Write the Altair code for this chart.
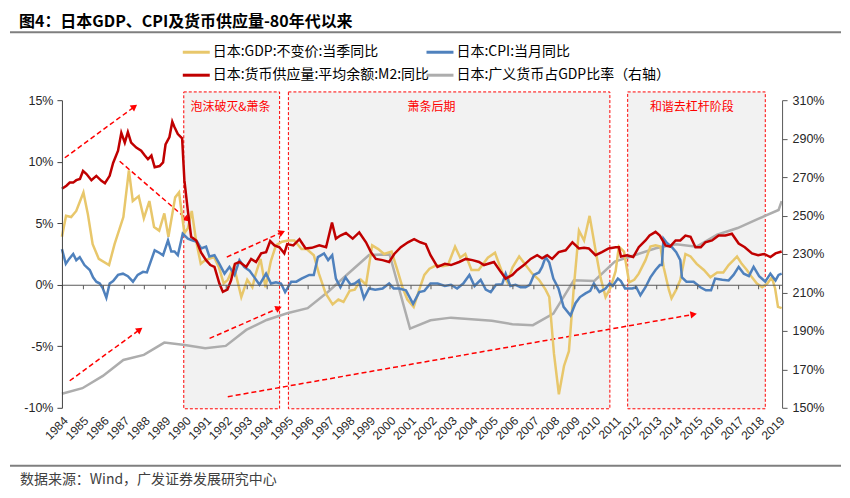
import math
import altair as alt
import pandas as pd

# ---------------- data ----------------
gdp_t = [1984.00, 1984.20, 1984.45, 1984.70, 1985.05, 1985.27, 1985.50, 1985.80, 1986.30, 1986.57,
         1987.00, 1987.27, 1987.46, 1987.75, 1988.00, 1988.27, 1988.50, 1988.75, 1989.00, 1989.20,
         1989.53, 1989.72, 1989.98, 1990.15, 1990.34, 1990.55, 1990.78, 1991.00, 1991.43, 1991.67,
         1991.90, 1992.10, 1992.40, 1992.76, 1993.05, 1993.30, 1993.45, 1993.70, 1993.94, 1994.20,
         1994.45, 1994.75, 1995.05, 1995.35, 1995.70, 1995.95, 1996.30, 1996.55, 1996.88, 1997.22,
         1997.50, 1997.75, 1998.05, 1998.30, 1998.60, 1998.85, 1999.15, 1999.45, 1999.73, 2000.10,
         2000.38, 2000.63, 2000.87, 2001.18, 2001.45, 2001.70, 2001.95, 2002.30, 2002.60, 2002.85,
         2003.20, 2003.45, 2003.70, 2004.00, 2004.35, 2004.80, 2005.15, 2005.50, 2005.76, 2006.00,
         2006.33, 2006.60, 2006.97, 2007.30, 2007.62, 2007.80, 2008.03, 2008.27, 2008.52, 2008.76,
         2009.00, 2009.25, 2009.50, 2009.77, 2010.06, 2010.30, 2010.55, 2010.80, 2011.04, 2011.20,
         2011.45, 2011.70, 2011.95, 2012.17, 2012.50, 2012.74, 2012.99, 2013.23, 2013.39, 2013.64,
         2013.77, 2014.00, 2014.20, 2014.45, 2014.70, 2015.00, 2015.35, 2015.67, 2016.00, 2016.30,
         2016.56, 2016.80, 2016.97, 2017.20, 2017.45, 2017.70, 2017.94, 2018.20, 2018.45, 2018.67,
         2018.83, 2018.97, 2019.15]
gdp_v = [3.9, 5.6, 5.5, 6.0, 7.5, 5.7, 3.3, 2.1, 1.6, 3.3,
         5.5, 9.3, 6.8, 7.2, 5.4, 6.8, 4.7, 4.4, 5.8, 3.9,
         7.1, 7.5, 4.2, 4.6, 6.0, 3.6, 1.7, 2.0, 2.25, 1.4,
         0.1, 0.4, 1.5, -1.0, 0.4, -0.2, 0.8, 2.1, -0.2, 1.9,
         3.2, 3.5, 3.6, 3.6, 2.9, 2.9, 2.4, 0.9, -0.7, -1.6,
         -1.2, -1.4, -0.5, -0.4, 0.4, 0.0, 3.2, 2.9, 2.5, 2.7,
         1.2, -0.2, -1.2, -1.8, -0.4, 0.8, 1.3, 1.6, 1.5, 1.6,
         3.1, 2.2, 2.5, 1.2, 1.2, 2.2, 2.6, 1.0, 0.2, 1.4,
         2.3, 1.7, 0.9, 0.4, -0.4, -1.0, -5.6, -8.9, -6.6, -5.4,
         -0.2, 4.4, 3.6, 5.6, 2.8, 0.6, -1.0, -0.2, 1.1, 3.1,
         2.7, 0.2, 0.4, 0.9, 2.0, 3.1, 3.2, 3.1, 1.4, -0.4,
         -1.1, -0.4, 0.4, 2.5, 2.3, 1.7, 1.2, 0.6, 1.0, 1.0,
         1.6, 2.0, 2.3, 1.7, 1.2, 0.6, 0.1, -0.2, 0.1, 0.6,
         -0.3, -1.8, -1.9]

cpi_t = [1984.00, 1984.19, 1984.35, 1984.55, 1984.70, 1984.87, 1985.10, 1985.36, 1985.52, 1985.68,
         1985.85, 1986.00, 1986.17, 1986.33, 1986.50, 1986.74, 1986.98, 1987.22, 1987.47, 1987.70,
         1987.96, 1988.15, 1988.36, 1988.53, 1988.75, 1988.94, 1989.18, 1989.34, 1989.50, 1989.66,
         1989.90, 1990.15, 1990.39, 1990.60, 1990.80, 1991.04, 1991.20, 1991.45, 1991.69, 1991.94,
         1992.18, 1992.43, 1992.67, 1992.90, 1993.16, 1993.40, 1993.65, 1993.97, 1994.21, 1994.45,
         1994.70, 1994.90, 1995.20, 1995.45, 1995.70, 1996.08, 1996.30, 1996.50, 1996.80, 1997.00,
         1997.20, 1997.38, 1997.60, 1997.85, 1998.10, 1998.30, 1998.50, 1998.75, 1999.00, 1999.30,
         1999.66, 1999.98, 2000.20, 2000.47, 2000.80, 2001.15, 2001.45, 2001.70, 2002.00, 2002.35,
         2002.70, 2003.00, 2003.30, 2003.60, 2003.90, 2004.15, 2004.45, 2004.70, 2004.94, 2005.20,
         2005.50, 2005.67, 2005.90, 2006.15, 2006.40, 2006.64, 2006.85, 2007.05, 2007.30, 2007.45,
         2007.62, 2007.80, 2008.00, 2008.25, 2008.50, 2008.84, 2009.08, 2009.30, 2009.57, 2009.80,
         2009.98, 2010.25, 2010.55, 2010.75, 2010.90, 2011.15, 2011.30, 2011.50, 2011.85, 2012.05,
         2012.25, 2012.50, 2012.74, 2012.99, 2013.20, 2013.30, 2013.38, 2013.55, 2013.79, 2014.00,
         2014.20, 2014.28, 2014.50, 2014.85, 2015.18, 2015.45, 2015.70, 2015.90, 2016.25, 2016.56,
         2016.80, 2017.05, 2017.30, 2017.55, 2017.78, 2018.05, 2018.35, 2018.60, 2018.85, 2019.00,
         2019.15]
cpi_v = [2.9, 1.7, 2.1, 2.5, 2.0, 2.25, 1.6, 1.2, 0.6, 0.25,
         0.1, -0.3, -1.05, 0.1, 0.3, 0.8, 0.9, 0.7, 0.25, 0.8,
         1.05, 1.0, 2.0, 2.8, 2.6, 2.4, 3.6, 2.7, 2.7, 2.4,
         4.15, 3.75, 3.6, 3.5, 2.95, 3.1, 2.3, 2.4, 1.7, 0.9,
         1.45, 0.8, 2.0, 1.45, 1.15, 0.6, 0.0, 0.9, 0.1, 0.2,
         0.1, -0.6, 0.25, 0.25, 0.5, 0.8, 0.8, 2.25, 2.55, 2.0,
         2.4, 0.5, -0.2, 0.6, 0.0, 0.1, 0.35, -1.1, -0.3, -0.4,
         -0.3, 0.1, -0.3, -0.3, -0.45, -1.55, -0.6, -0.5, 0.1, 0.1,
         -0.1, 0.0, -0.3, 0.1, 0.8, -0.1, 0.4, -0.4, -0.6, 0.0,
         0.05, 0.9, -0.1, 0.0, -0.2, -0.2, 0.0, 0.8, 1.0, 1.45,
         2.25, 1.8, 0.5, -0.3, -1.8, -2.5, -1.5, -1.0, -0.7, -0.5,
         0.1, -0.6, -0.3, 0.1, -0.1, 0.5, 0.3, -0.3, -0.3, -0.2,
         -0.85, -0.2, 0.6, 1.2, 1.6, 1.6, 3.75, 3.4, 3.05, 2.65,
         2.0, 0.6, 0.25, 0.25, -0.2, -0.45, -0.45, 0.5, 0.4, 0.35,
         0.8, 1.45, 0.9, 0.7, 1.45, 0.7, 0.25, 0.9, 0.35, 0.8,
         0.9]

m2_t = [1984.00, 1984.22, 1984.38, 1984.55, 1984.70, 1984.88, 1985.03, 1985.20, 1985.44, 1985.68,
        1985.93, 1986.10, 1986.33, 1986.50, 1986.74, 1986.90, 1987.07, 1987.22, 1987.38, 1987.63,
        1987.87, 1988.05, 1988.20, 1988.37, 1988.53, 1988.77, 1988.94, 1989.06, 1989.25, 1989.39,
        1989.50, 1989.66, 1989.87, 1989.98, 1990.15, 1990.31, 1990.56, 1990.80, 1991.04, 1991.25,
        1991.45, 1991.69, 1991.86, 1992.08, 1992.26, 1992.45, 1992.67, 1993.00, 1993.24, 1993.48,
        1993.73, 1993.97, 1994.17, 1994.38, 1994.62, 1994.86, 1995.00, 1995.30, 1995.60, 1995.90,
        1996.20, 1996.57, 1996.90, 1997.19, 1997.38, 1997.60, 1997.87, 1998.20, 1998.52, 1998.85,
        1999.09, 1999.33, 1999.66, 1999.98, 2000.23, 2000.55, 2000.90, 2001.20, 2001.50, 2001.77,
        2002.00, 2002.34, 2002.70, 2003.00, 2003.40, 2003.72, 2004.05, 2004.37, 2004.61, 2005.10,
        2005.43, 2005.67, 2006.00, 2006.24, 2006.56, 2006.89, 2007.21, 2007.45, 2007.70, 2007.94,
        2008.26, 2008.60, 2008.93, 2009.25, 2009.50, 2009.73, 2010.06, 2010.37, 2010.70, 2011.04,
        2011.20, 2011.30, 2011.60, 2011.90, 2012.17, 2012.50, 2012.70, 2012.99, 2013.20, 2013.48,
        2013.70, 2013.97, 2014.20, 2014.45, 2014.70, 2014.94, 2015.20, 2015.42, 2015.75, 2016.07,
        2016.40, 2016.72, 2017.05, 2017.35, 2017.70, 2018.00, 2018.30, 2018.60, 2018.85, 2019.15]
m2_v = [7.8, 8.05, 8.3, 8.3, 8.5, 8.6, 9.25, 9.0, 8.5, 8.85,
        8.45, 8.25, 8.85, 9.9, 10.9, 12.35, 11.55, 12.4, 11.55, 11.15,
        10.9, 10.5, 10.2, 10.5, 9.55, 9.65, 9.95, 11.4, 12.0, 13.25,
        12.8, 12.25, 11.9, 8.5, 6.0, 3.9, 3.6, 2.6, 2.0, 1.6,
        1.45, 0.1, -0.58, -0.4, 0.36, 1.7, 1.85, 1.45, 2.1, 1.85,
        2.55, 2.65, 3.55, 3.2, 3.05, 2.55, 3.3, 3.2, 3.7, 2.95,
        3.0, 3.2, 3.05, 5.05, 3.75, 4.0, 4.2, 3.75, 4.25, 3.45,
        2.65, 2.1, 2.0, 1.85, 2.5, 3.05, 3.45, 3.7, 3.45, 3.3,
        2.4, 1.45, 1.7, 1.6, 1.85, 2.1, 2.0, 1.85, 1.6, 1.85,
        1.05, 0.5, 0.8, 1.2, 1.6, 2.1, 2.4, 2.15, 2.4, 2.1,
        2.65, 2.8, 3.45, 2.95, 3.0, 2.95, 2.4, 2.65, 2.95, 3.05,
        3.05, 2.3, 2.4, 2.25, 3.05, 3.6, 4.0, 4.3, 4.0, 3.2,
        3.1, 3.6, 3.6, 4.0, 3.9, 3.05, 3.05, 3.45, 3.6, 4.0,
        4.0, 4.15, 3.35, 3.05, 2.55, 2.4, 2.5, 2.25, 2.55, 2.7]

ratio_t = [1984.0, 1985.0, 1986.0, 1987.0, 1988.0, 1989.0, 1990.0, 1991.0, 1992.0, 1993.0,
           1994.0, 1995.0, 1996.0, 1997.0, 1998.0, 1999.0, 2000.0, 2001.0, 2002.0, 2003.0,
           2004.0, 2005.0, 2006.0, 2007.0, 2008.0, 2009.0, 2010.0, 2011.0, 2012.0, 2013.0,
           2014.0, 2015.0, 2016.0, 2017.0, 2018.0, 2019.0, 2019.15]
ratio_v = [157.3, 160.2, 166.6, 174.9, 177.5, 183.9, 182.7, 181.0, 182.2, 190.5,
           195.7, 199.2, 201.8, 210.4, 220.0, 229.5, 229.8, 191.2, 195.5, 196.9,
           196.0, 195.3, 193.5, 193.0, 199.0, 216.3, 216.0, 226.0, 229.5, 233.0,
           235.1, 233.8, 240.0, 243.5, 248.3, 252.9, 257.5]

series_names = ["日本:GDP:不变价:当季同比", "日本:CPI:当月同比",
                "日本:货币供应量:平均余额:M2:同比", "日本:广义货币占GDP比率（右轴）"]
year_ticks = list(range(1984, 2020))
left_ticks = [-10, -5, 0, 5, 10, 15]
right_ticks = list(range(150, 311, 20))

region_names = ["泡沫破灭&萧条", "萧条后期", "和谐去杠杆阶段"]
region_start = [1989.95, 1995.06, 2011.63]
region_end = [1994.63, 2010.76, 2018.35]
region_label_x = [1992.23, 2002.05, 2014.76]

arrow_x1 = [1984.14, 1986.82, 1992.05, 1984.38, 1991.21, 1992.10]
arrow_y1 = [10.32, 10.04, 2.25, -7.80, -4.36, -9.10]
arrow_x2 = [1987.50, 1990.07, 1994.70, 1987.76, 1994.54, 2014.80]
arrow_y2 = [14.42, 5.37, 4.23, -3.69, -1.93, -2.42]

title_text = "图4：日本GDP、CPI及货币供应量-80年代以来"
source_text = "数据来源：Wind，广发证券发展研究中心"

# ---------------- layout / style ----------------
W, H = 721, 308
X_DOMAIN = [1984, 2019.17]
Y_LEFT = [-10, 15]
Y_RIGHT = [150, 310]
colors = ["#E8C76B", "#4F81BD", "#C00000", "#ADADAD"]
CJK = "Noto Sans CJK SC"
LAT = "Liberation Sans"

def xsc():
    return alt.Scale(domain=X_DOMAIN, nice=False, zero=False)

def ylsc():
    return alt.Scale(domain=Y_LEFT, nice=False, zero=False)

yr = alt.Scale(domain=Y_RIGHT, nice=False, zero=False)

zero_px = H * (Y_LEFT[1] - 0) / (Y_LEFT[1] - Y_LEFT[0])
px_x = W / (X_DOMAIN[1] - X_DOMAIN[0])
px_y = H / (Y_LEFT[1] - Y_LEFT[0])

label_axis = alt.Axis(orient="bottom", values=year_ticks, format="d", labelAngle=315,
                      labelFont=LAT, labelFontSize=12, labelColor="#262626",
                      domain=False, ticks=False, grid=False, title=None, labelPadding=7,
                      labelOverlap=False)
zero_axis = alt.Axis(orient="bottom", offset=-(H - zero_px), values=year_ticks, labels=False,
                     ticks=True, tickSize=4, tickColor="#595959", domain=True,
                     domainColor="#595959", domainWidth=1, grid=False, title=None, zindex=1)
left_axis = alt.Axis(orient="left", values=left_ticks, labelExpr="datum.value + '%'",
                     tickSize=5, tickColor="#404040", domainColor="#404040",
                     labelFont=LAT, labelFontSize=12.5, labelColor="#262626",
                     labelPadding=4, grid=False, title=None, zindex=1)
right_axis = alt.Axis(orient="right", values=right_ticks, labelExpr="datum.value + '%'",
                      tickSize=5, tickColor="#595959", domainColor="#595959",
                      labelFont=LAT, labelFontSize=12.5, labelColor="#262626",
                      labelPadding=5, grid=False, title=None, zindex=1)

# ---------------- tables ----------------
gdp_df = pd.DataFrame({"t": gdp_t, "v": gdp_v})
cpi_df = pd.DataFrame({"t": cpi_t, "v": cpi_v})
m2_df = pd.DataFrame({"t": m2_t, "v": m2_v})
ratio_df = pd.DataFrame({"t": ratio_t, "v": ratio_v})

reg_df = pd.DataFrame({"name": region_names, "s": region_start, "e": region_end,
                       "lx": region_label_x})
reg_df["top"] = 15.67
reg_df["bot"] = -10.08

arr_df = pd.DataFrame({"x1": arrow_x1, "y1": arrow_y1, "x2": arrow_x2, "y2": arrow_y2})
arr_df["ang"] = [
    (math.degrees(math.atan2((b - a) * px_x, (d - c) * px_y)) + 360) % 360
    for a, b, c, d in zip(arr_df.x1, arr_df.x2, arr_df.y1, arr_df.y2)
]

# ---------------- layers ----------------
regions = alt.Chart(reg_df).mark_rect(
    fill="#F2F2F2", stroke="#FF0000", strokeDash=[3, 2], strokeWidth=1
).encode(
    x=alt.X("s:Q", scale=xsc(), axis=None), x2="e:Q",
    y=alt.Y("top:Q", scale=ylsc(), axis=None), y2="bot:Q",
)
region_labels = alt.Chart(reg_df).mark_text(
    font=CJK, fontSize=12, color="#FF0000", baseline="middle"
).encode(
    x=alt.X("lx:Q", scale=xsc(), axis=None), y=alt.value(7), text="name:N"
)
arrow_lines = alt.Chart(arr_df).mark_rule(
    color="#FF0000", strokeDash=[5, 3], strokeWidth=1.5
).encode(
    x=alt.X("x1:Q", scale=xsc(), axis=None), y=alt.Y("y1:Q", scale=ylsc(), axis=None),
    x2="x2:Q", y2="y2:Q",
)
arrow_heads = alt.Chart(arr_df).mark_point(
    shape="triangle", filled=True, size=55, color="#FF0000", opacity=1
).encode(
    x=alt.X("x2:Q", scale=xsc(), axis=None), y=alt.Y("y2:Q", scale=ylsc(), axis=None),
    angle=alt.Angle("ang:Q", scale=None),
)
ratio_line = alt.Chart(ratio_df).mark_line(color=colors[3], strokeWidth=2.5).encode(
    x=alt.X("t:Q", scale=xsc(), axis=None),
    y=alt.Y("v:Q", scale=yr, axis=right_axis),
)
gdp_line = alt.Chart(gdp_df).mark_line(color=colors[0], strokeWidth=2.5).encode(
    x=alt.X("t:Q", scale=xsc(), axis=label_axis),
    y=alt.Y("v:Q", scale=ylsc(), axis=left_axis),
)
cpi_line = alt.Chart(cpi_df).mark_line(color=colors[1], strokeWidth=2.5).encode(
    x=alt.X("t:Q", scale=xsc(), axis=None),
    y=alt.Y("v:Q", scale=ylsc(), axis=None),
)
m2_line = alt.Chart(m2_df).mark_line(color=colors[2], strokeWidth=2.5).encode(
    x=alt.X("t:Q", scale=xsc(), axis=zero_axis),
    y=alt.Y("v:Q", scale=ylsc(), axis=None),
)

# decorations: title, separators, legend, source
deco = []
deco.append(alt.Chart().mark_text(font=CJK, fontSize=16, fontWeight="bold", color="#000000",
                                  align="left", baseline="middle").encode(
    x=alt.value(-43), y=alt.value(-78), text=alt.value(title_text)))
deco.append(alt.Chart().mark_rule(color="#7F7F7F", strokeWidth=2).encode(
    x=alt.value(-52), x2=alt.value(780), y=alt.value(-68)))
deco.append(alt.Chart().mark_rule(color="#7F7F7F", strokeWidth=2).encode(
    x=alt.value(-52), x2=alt.value(780), y=alt.value(366)))
deco.append(alt.Chart().mark_text(font=CJK, fontSize=14, color="#404040",
                                  align="left", baseline="middle").encode(
    x=alt.value(-42), y=alt.value(380), text=alt.value(source_text)))

leg_pos = [(121, -48), (365, -48), (121, -25), (365, -25)]
for name, col, (lx, ly) in zip(series_names, colors, leg_pos):
    deco.append(alt.Chart().mark_rule(color=col, strokeWidth=3).encode(
        x=alt.value(lx), x2=alt.value(lx + 27), y=alt.value(ly)))
    deco.append(alt.Chart().mark_text(font=CJK, fontSize=14, color="#000000",
                                      align="left", baseline="middle").encode(
        x=alt.value(lx + 30), y=alt.value(ly), text=alt.value(name)))

chart = alt.layer(
    regions, region_labels, arrow_lines, arrow_heads,
    ratio_line, gdp_line, cpi_line, m2_line, *deco
).resolve_scale(y="independent").resolve_axis(x="independent", y="independent").properties(
    width=W, height=H,
    autosize=alt.AutoSizeParams(type="none"),
    padding={"left": 54, "top": 92, "right": 60, "bottom": 80},
).configure_view(stroke=None)

chart.save("out.html", embed_options={"renderer": "svg", "actions": False})
